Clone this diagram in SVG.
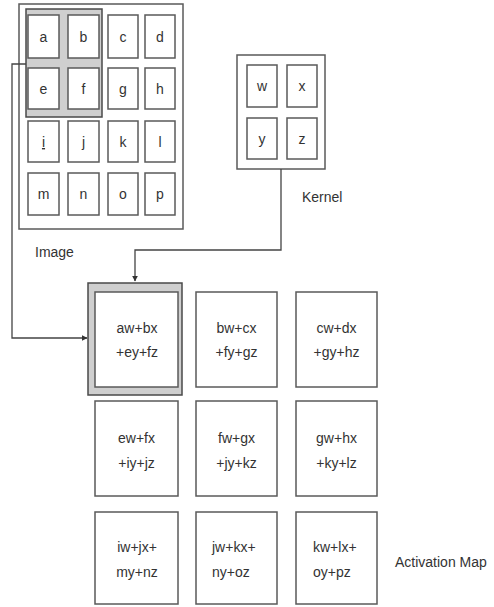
<svg xmlns="http://www.w3.org/2000/svg" width="494" height="607" viewBox="0 0 494 607">
<style>
.frame{fill:none;stroke:#5a5a5a;stroke-width:1.5}
.cell{fill:#fff;stroke:#5a5a5a;stroke-width:1.5}
.hl{fill:#cfcfcf;stroke:#4a4a4a;stroke-width:1.5}
.t{font-family:"Liberation Sans",Arial,sans-serif;font-size:14px;fill:#333;text-anchor:middle}
.ts{font-family:"Liberation Sans",Arial,sans-serif;font-size:14px;fill:#333}
.lbl{font-family:"Liberation Sans",Arial,sans-serif;font-size:14px;fill:#333}
.conn{fill:none;stroke:#444;stroke-width:1.3}
</style>
<defs>
<marker id="ah" viewBox="0 0 10 10" refX="9" refY="5" markerWidth="6" markerHeight="6" orient="auto" markerUnits="userSpaceOnUse">
<path d="M0,0 L10,5 L0,10 z" fill="#333"/>
</marker>
</defs>
<rect x="0" y="0" width="494" height="607" fill="#fff"/>

<g id="image">
<rect class="frame" x="19" y="4" width="164" height="225"/>
<rect class="hl" x="26" y="9" width="76" height="108"/>
<g id="cells">
<rect class="cell" x="28" y="15" width="31" height="43"/><text class="t" x="43.5" y="42">a</text>
<rect class="cell" x="68" y="15" width="31" height="43"/><text class="t" x="83.5" y="42">b</text>
<rect class="cell" x="108" y="15" width="30" height="43"/><text class="t" x="123" y="42">c</text>
<rect class="cell" x="145" y="15" width="30" height="43"/><text class="t" x="160" y="42">d</text>
<rect class="cell" x="28" y="68" width="31" height="41"/><text class="t" x="43.5" y="94">e</text>
<rect class="cell" x="68" y="68" width="31" height="41"/><text class="t" x="83.5" y="94">f</text>
<rect class="cell" x="108" y="68" width="30" height="41"/><text class="t" x="123" y="94">g</text>
<rect class="cell" x="145" y="68" width="30" height="41"/><text class="t" x="160" y="94">h</text>
<rect class="cell" x="28" y="121" width="31" height="41"/><text class="t" x="43.5" y="147" text-decoration="underline">i</text>
<rect class="cell" x="68" y="121" width="31" height="41"/><text class="t" x="83.5" y="147">j</text>
<rect class="cell" x="108" y="121" width="30" height="41"/><text class="t" x="123" y="147">k</text>
<rect class="cell" x="145" y="121" width="30" height="41"/><text class="t" x="160" y="147">l</text>
<rect class="cell" x="28" y="173" width="31" height="42"/><text class="t" x="43.5" y="199">m</text>
<rect class="cell" x="68" y="173" width="31" height="42"/><text class="t" x="83.5" y="199">n</text>
<rect class="cell" x="108" y="173" width="30" height="42"/><text class="t" x="123" y="199">o</text>
<rect class="cell" x="145" y="173" width="30" height="42"/><text class="t" x="160" y="199">p</text>
</g>
<text class="lbl" x="35" y="257">Image</text>
</g>

<g id="kernel">
<rect class="frame" x="237" y="55" width="88" height="114"/>
<rect class="cell" x="247" y="65" width="30" height="42"/><text class="t" x="262" y="91">w</text>
<rect class="cell" x="287" y="65" width="30" height="42"/><text class="t" x="302" y="91">x</text>
<rect class="cell" x="247" y="118" width="30" height="41"/><text class="t" x="262" y="144">y</text>
<rect class="cell" x="287" y="118" width="30" height="41"/><text class="t" x="302" y="144">z</text>
<text class="lbl" x="302" y="202">Kernel</text>
</g>

<g id="connectors">
<path class="conn" d="M26,64 H12 V338 H87" marker-end="url(#ah)"/>
<path class="conn" d="M281,169 V250 H135 V281" marker-end="url(#ah)"/>
</g>

<g id="activation-map">
<g id="a11">
<rect class="hl" x="88" y="283" width="94" height="112"/>
<rect class="cell" x="95" y="292" width="83" height="95"/>
<text class="t" x="137" y="333">aw+bx</text><text class="t" x="137" y="357">+ey+fz</text>
</g>
<g id="a12">
<rect class="cell" x="196" y="292" width="81" height="95"/>
<text class="t" x="236.5" y="333">bw+cx</text><text class="t" x="236.5" y="357">+fy+gz</text>
</g>
<g id="a13">
<rect class="cell" x="296" y="292" width="81" height="95"/>
<text class="t" x="336.5" y="333">cw+dx</text><text class="t" x="336.5" y="357">+gy+hz</text>
</g>
<g id="a21">
<rect class="cell" x="95" y="401" width="83" height="95"/>
<text class="t" x="136.5" y="443">ew+fx</text><text class="t" x="136.5" y="468">+iy+jz</text>
</g>
<g id="a22">
<rect class="cell" x="196" y="401" width="81" height="95"/>
<text class="t" x="236.5" y="443">fw+gx</text><text class="t" x="236.5" y="468">+jy+kz</text>
</g>
<g id="a23">
<rect class="cell" x="296" y="401" width="81" height="95"/>
<text class="t" x="336.5" y="443">gw+hx</text><text class="t" x="336.5" y="468">+ky+lz</text>
</g>
<g id="a31">
<rect class="cell" x="95" y="512" width="83" height="92"/>
<text class="t" x="137" y="552">iw+jx+</text><text class="t" x="137" y="577">my+nz</text>
</g>
<g id="a32">
<rect class="cell" x="196" y="512" width="81" height="92"/>
<text class="ts" x="212" y="552">jw+kx+</text><text class="ts" x="212" y="577">ny+oz</text>
</g>
<g id="a33">
<rect class="cell" x="296" y="512" width="81" height="92"/>
<text class="ts" x="313" y="552">kw+lx+</text><text class="ts" x="313" y="577">oy+pz</text>
</g>
<text class="lbl" x="395" y="567">Activation Map</text>
</g>
</svg>
